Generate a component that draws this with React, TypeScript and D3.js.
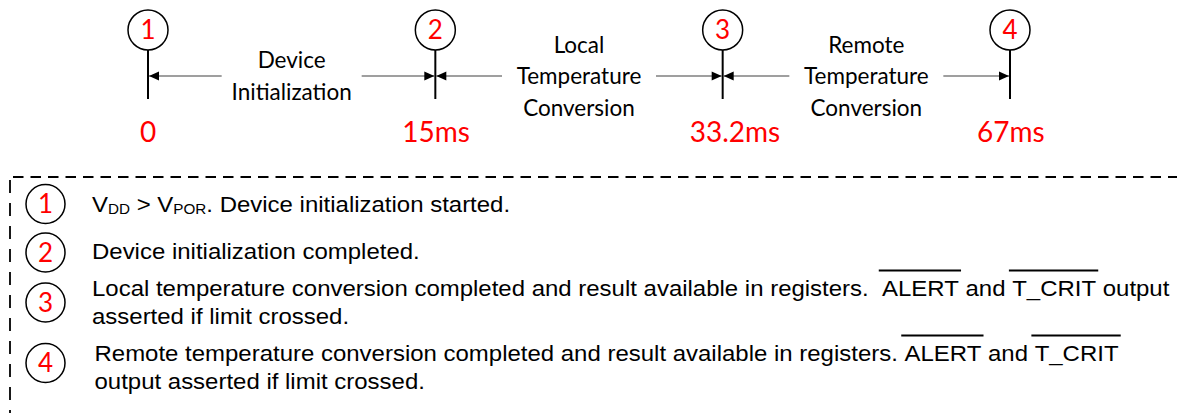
import React, { useEffect, useRef } from "react";
import * as d3 from "d3";

// ---- data ----
const events = ["1", "2", "3", "4"];
const eventTimes = ["0", "15ms", "33.2ms", "67ms"];
const phaseLabels = [
  ["Device", "Initialization"],
  ["Local", "Temperature", "Conversion"],
  ["Remote", "Temperature", "Conversion"],
];
type Seg = { t: string; sub?: boolean; over?: boolean };
const legendItems: Seg[][][] = [
  [[{ t: "V" }, { t: "DD", sub: true }, { t: " > V" }, { t: "POR", sub: true }, { t: ". Device initialization started." }]],
  [[{ t: "Device initialization completed." }]],
  [
    [
      { t: "Local temperature conversion completed and result available in registers.  " },
      { t: "ALERT", over: true },
      { t: " and " },
      { t: "T_CRIT", over: true },
      { t: " output" },
    ],
    [{ t: "asserted if limit crossed." }],
  ],
  [
    [
      { t: "Remote temperature conversion completed and result available in registers. " },
      { t: "ALERT", over: true },
      { t: " and " },
      { t: "T_CRIT", over: true },
    ],
    [{ t: "output asserted if limit crossed." }],
  ],
];

// ---- layout ----
const W = 1177;
const H = 413;
const TOP_FONT = "Lato, 'Open Sans', sans-serif";
const BODY_FONT = "'Liberation Sans', Arial, sans-serif";
const RED = "#ff0000";
const circleY = 30;
const circleR = 20;
const markerTop = 50;
const markerBottom = 99;
const arrowY = 76;
const phaseGap = [70, 77, 77];
const phaseMidBaseline = 84;
const phaseLineH = 31.5;
const timeBaseline = 142;
const boxTop = 177;
const boxLeft = 10;
const legendCircleX = 45.5;
const legendCircleY = [204, 252.5, 302.5, 363];
const legendTextX = [92, 92, 92, 94.5];
const legendBaselines = [[212], [259], [296], [361]];
const legendLineH = 27.5;
const bodyFontSize = 22;
const bodyScaleX = 1.09;

export default function App() {
  const ref = useRef<SVGSVGElement | null>(null);

  useEffect(() => {
    const svg = d3.select(ref.current);
    svg.selectAll("*").remove();

    const x = d3.scalePoint<string>().domain(events).range([148, 1010]);

    // markers + circles
    const ev = svg.append("g");
    events.forEach((e, i) => {
      const cx = x(e)!;
      ev.append("circle").attr("cx", cx).attr("cy", circleY).attr("r", circleR)
        .attr("fill", "none").attr("stroke", "#000").attr("stroke-width", 1.5);
      ev.append("text").attr("x", cx).attr("y", circleY).attr("dy", "0.36em")
        .attr("text-anchor", "middle").attr("font-family", TOP_FONT).attr("font-size", 26)
        .attr("fill", RED).text(e);
      ev.append("line").attr("x1", cx).attr("x2", cx).attr("y1", markerTop).attr("y2", markerBottom)
        .attr("stroke", "#000").attr("stroke-width", 2);
      const tl = ev.append("text").attr("y", timeBaseline).attr("font-family", TOP_FONT)
        .attr("font-size", 28).attr("fill", RED).text(eventTimes[i]);
      if (i === 0) tl.attr("x", cx).attr("text-anchor", "middle");
      else tl.attr("x", cx - 33).attr("text-anchor", "start");
    });

    // phases: arrows + labels
    const ph = svg.append("g");
    const head = (tipX: number, dir: number) => {
      const p = d3.path();
      p.moveTo(tipX, arrowY);
      p.lineTo(tipX + dir * 10, arrowY - 4.5);
      p.lineTo(tipX + dir * 10, arrowY + 4.5);
      p.closePath();
      ph.append("path").attr("d", p.toString()).attr("fill", "#000");
    };
    phaseLabels.forEach((lines, i) => {
      const x0 = x(events[i])! + 1;
      const x1 = x(events[i + 1])! - 1;
      const mid = (x(events[i])! + x(events[i + 1])!) / 2;
      ph.append("line").attr("x1", x0).attr("x2", mid - phaseGap[i]).attr("y1", arrowY).attr("y2", arrowY)
        .attr("stroke", "#404040").attr("stroke-width", 1.2);
      ph.append("line").attr("x1", mid + phaseGap[i]).attr("x2", x1).attr("y1", arrowY).attr("y2", arrowY)
        .attr("stroke", "#404040").attr("stroke-width", 1.2);
      head(x0, 1);
      head(x1, -1);
      const n = lines.length;
      lines.forEach((l, j) => {
        ph.append("text").attr("x", mid)
          .attr("y", phaseMidBaseline + (j - (n - 1) / 2) * phaseLineH)
          .attr("text-anchor", "middle").attr("font-family", TOP_FONT).attr("font-size", 22.5)
          .attr("fill", "#000").text(l);
      });
    });

    // dashed box
    svg.append("line").attr("x1", boxLeft + 3).attr("x2", W).attr("y1", boxTop).attr("y2", boxTop)
      .attr("stroke", "#000").attr("stroke-width", 1.8).attr("stroke-dasharray", "10.5 7");
    svg.append("line").attr("x1", boxLeft).attr("x2", boxLeft).attr("y1", boxTop + 3).attr("y2", H)
      .attr("stroke", "#000").attr("stroke-width", 1.8).attr("stroke-dasharray", "13 10");

    // legend
    const lg = svg.append("g");
    legendItems.forEach((lines, i) => {
      lg.append("circle").attr("cx", legendCircleX).attr("cy", legendCircleY[i]).attr("r", 19.5)
        .attr("fill", "none").attr("stroke", "#000").attr("stroke-width", 1.5);
      lg.append("text").attr("x", legendCircleX).attr("y", legendCircleY[i]).attr("dy", "0.36em")
        .attr("text-anchor", "middle").attr("font-family", TOP_FONT).attr("font-size", 26)
        .attr("fill", RED).text(events[i]);
      lines.forEach((segs, j) => {
        const by = legendBaselines[i][0] + j * legendLineH;
        const g = lg.append("g").attr("transform", `translate(${legendTextX[i]},${by}) scale(${bodyScaleX},1)`);
        const t = g.append("text").attr("x", 0).attr("y", 0).attr("font-family", BODY_FONT)
          .attr("font-size", bodyFontSize).attr("fill", "#000").style("white-space", "pre");
        const overs: SVGTSpanElement[] = [];
        segs.forEach((s, k) => {
          const ts = t.append("tspan").text(s.t);
          if (s.sub) ts.attr("font-size", 14).attr("dy", 2);
          else if (k > 0 && segs[k - 1].sub) ts.attr("dy", -2);
          if (s.over) overs.push(ts.node() as SVGTSpanElement);
        });
        overs.forEach((node) => {
          const bb = node.getBBox();
          g.append("line").attr("x1", bb.x - 3).attr("x2", bb.x + bb.width + 2)
            .attr("y1", -25.5).attr("y2", -25.5).attr("stroke", "#000").attr("stroke-width", 1.8);
        });
      });
    });
  }, []);

  return (
    <svg
      ref={ref}
      width={W}
      height={H}
      viewBox={`0 0 ${W} ${H}`}
      style={{ position: "absolute", left: 0, top: 0, background: "#fff" }}
    />
  );
}
